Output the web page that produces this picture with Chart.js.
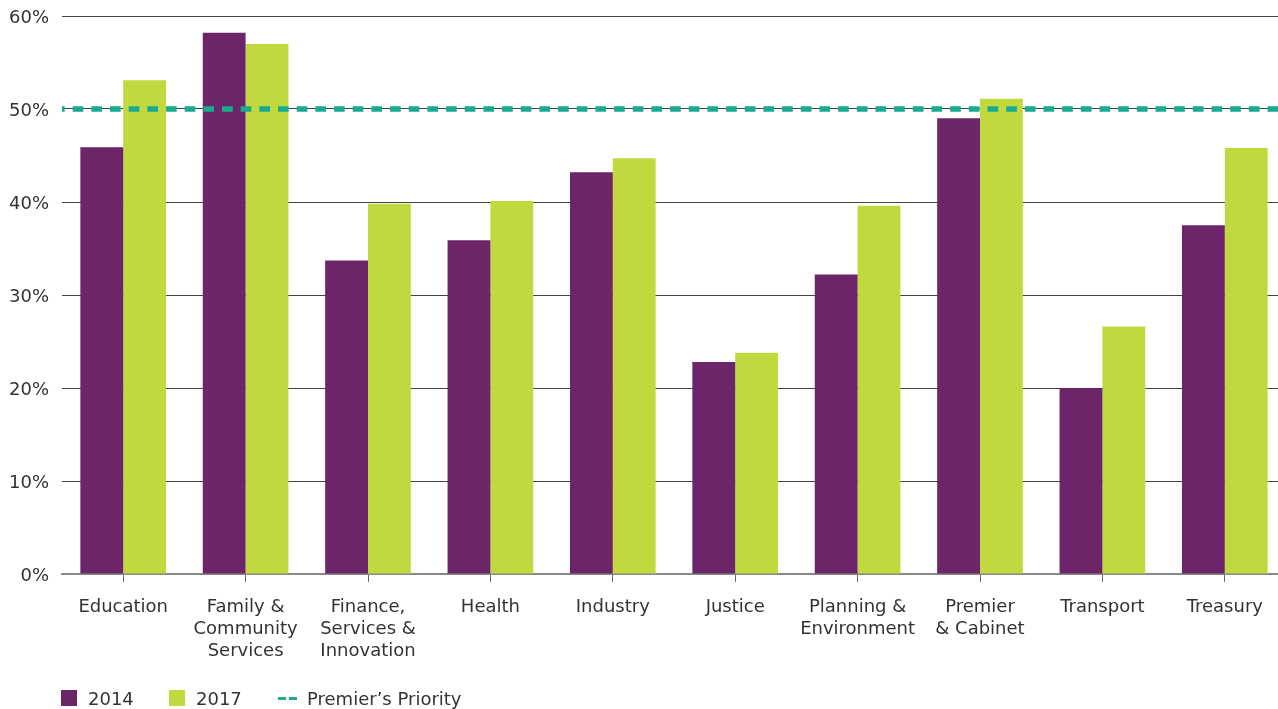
<!DOCTYPE html>
<html>
<head>
<meta charset="utf-8">
<script src="https://cdn.jsdelivr.net/npm/chart.js@4"></script>
<style>
  html, body { margin: 0; padding: 0; background: #fff; overflow: hidden; }
  #wrap { position: relative; width: 1278px; height: 709px; overflow: hidden; }
  #legend { font: 18px "DejaVu Sans", sans-serif; color: #333; }
  #legend span { position: absolute; white-space: nowrap; }
  #legend .box { width: 16px; height: 16px; }
  #legend .dash {
    width: 20px; height: 3px;
    background: repeating-linear-gradient(to right, #1aab8f 0 8px, transparent 8px 11px);
  }
</style>
</head>
<body>
<div id="wrap">
  <!-- canvas is a few px wider than the frame so the last group sits near the edge -->
  <canvas id="chart" width="1286" height="709"></canvas>
  <div id="legend"></div>
</div>
<script>
// Share of roles by department, 2014 vs 2017
const departments = [
  'Education',
  ['Family &', 'Community', 'Services'],
  ['Finance,', 'Services &', 'Innovation'],
  'Health',
  'Industry',
  'Justice',
  ['Planning &', 'Environment'],
  ['Premier', '& Cabinet'],
  'Transport',
  'Treasury',
];
const values2014 = [45.9, 58.2, 33.7, 35.9, 43.2, 22.8, 32.2, 49.0, 20.0, 37.5];
const values2017 = [53.1, 57.0, 39.8, 40.1, 44.7, 23.8, 39.6, 51.1, 26.6, 45.8];
const priorityTarget = 50;
const yTicks = [0, 10, 20, 30, 40, 50, 60];

const purple = '#6b2568';
const lime = '#c1d93e';
const teal = '#1aab8f';
const textColor = '#333';
const font = 'DejaVu Sans';

// Dashed target line across the full plot width, on top of the bars
const priorityLine = {
  id: 'priorityLine',
  afterDatasetsDraw(chart) {
    const { ctx, chartArea, scales } = chart;
    const y = scales.y.getPixelForValue(priorityTarget);
    ctx.save();
    ctx.strokeStyle = teal;
    ctx.lineWidth = 5.5;
    ctx.setLineDash([10.67, 8]);
    ctx.lineDashOffset = 8;
    ctx.beginPath();
    ctx.moveTo(chartArea.left, y);
    ctx.lineTo(chartArea.right, y);
    ctx.stroke();
    ctx.restore();
  },
};

const ctx = document.getElementById('chart').getContext('2d');
const chart = new Chart(ctx, {
  type: 'bar',
  data: {
    labels: departments,
    datasets: [
      { label: '2014', data: values2014, backgroundColor: purple },
      { label: '2017', data: values2017, backgroundColor: lime },
    ],
  },
  options: {
    responsive: false,
    animation: false,
    layout: { padding: { top: 16, right: 0, bottom: 0, left: 0 } },
    datasets: {
      bar: { categoryPercentage: 0.7, barPercentage: 1 },
    },
    plugins: {
      legend: { display: false },
      tooltip: { enabled: false },
    },
    scales: {
      x: {
        grid: {
          drawOnChartArea: false,
          offset: false,
          tickLength: 8,
          color: '#666',
        },
        border: { color: '#888', width: 2 },
        ticks: {
          color: textColor,
          font: { family: font, size: 18, lineHeight: 1.22 },
          padding: 14,
          maxRotation: 0,
          autoSkip: false,
        },
        afterFit(scale) {
          scale.height = 135;
        },
      },
      y: {
        min: 0,
        max: 60,
        afterBuildTicks(scale) {
          scale.ticks = yTicks.map((v) => ({ value: v }));
        },
        grid: { drawTicks: false, color: '#444' },
        border: { display: false },
        ticks: {
          color: textColor,
          font: { family: font, size: 18 },
          padding: 13,
          labelOffset: 2,
          callback: (v) => `${v}%`,
        },
        afterFit(scale) {
          scale.width = 62;
          scale.paddingTop = 0;
          scale.paddingBottom = 0;
        },
      },
    },
  },
  plugins: [priorityLine],
});

// Legend row under the axis labels
const legendItems = [
  { label: '2014', swatch: 'box', color: purple, x: 61, textX: 88 },
  { label: '2017', swatch: 'box', color: lime, x: 169, textX: 196 },
  { label: 'Premier’s Priority', swatch: 'dash', color: teal, x: 278, textX: 307 },
];
document.getElementById('legend').innerHTML = legendItems
  .map((item) => {
    const top = item.swatch === 'box' ? 690 : 697;
    const bg = item.swatch === 'box' ? `background:${item.color};` : '';
    return `
    <span class="${item.swatch}" style="left:${item.x}px;top:${top}px;${bg}"></span>
    <span style="left:${item.textX}px;top:688px;line-height:22px">${item.label}</span>`;
  })
  .join('');
</script>
</body>
</html>
